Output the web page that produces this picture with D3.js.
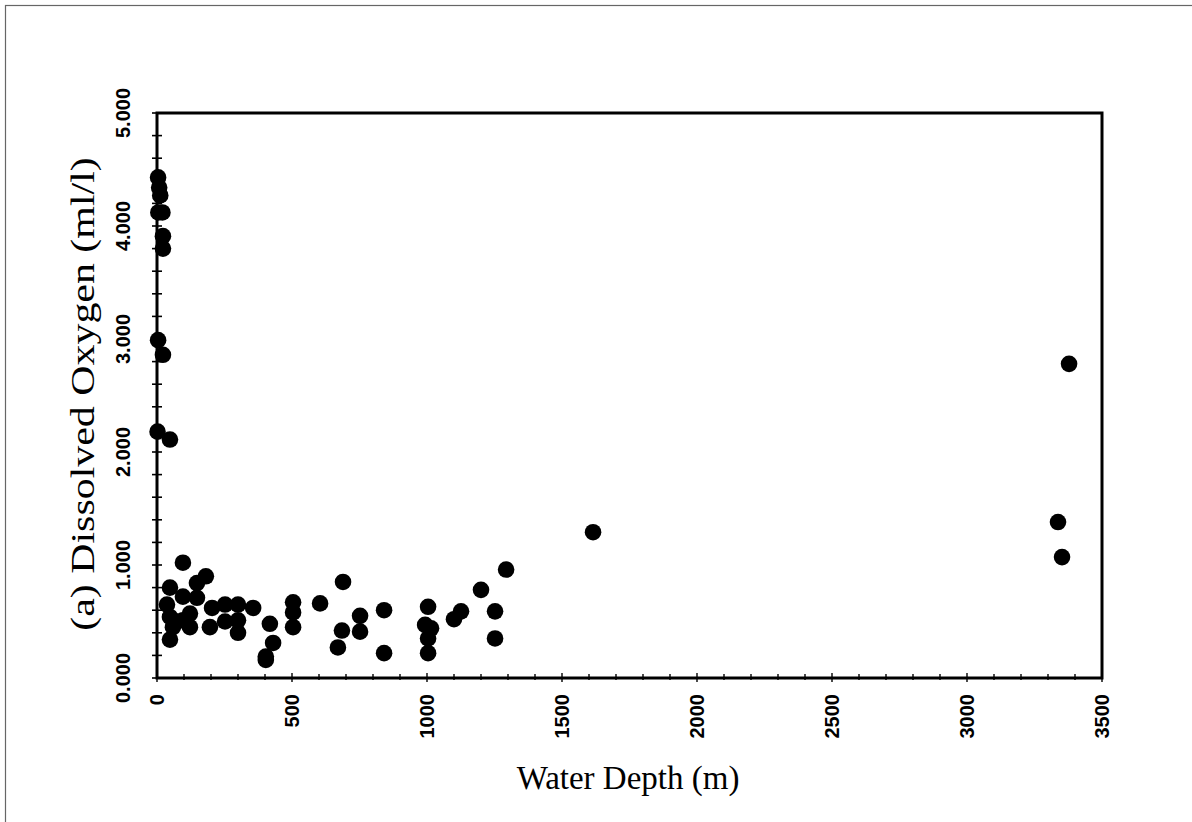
<!DOCTYPE html>
<html>
<head>
<meta charset="utf-8">
<script src="https://cdn.jsdelivr.net/npm/d3@7"></script>
<style>
  html, body { margin: 0; padding: 0; background: #fff; }
  svg { display: block; }
</style>
</head>
<body>
<svg id="chart" width="1192" height="822"></svg>
<script>
// Dissolved oxygen vs water depth scatter

const depth = [4, 8, 12, 5, 20, 22, 22, 4, 22, 2, 48,
  96, 181, 148, 48, 96, 148, 37, 204, 252, 300, 356, 504, 504, 604,
  48, 74, 122, 96, 122, 59, 196, 252, 300, 300, 504, 418, 430, 403, 403, 48,
  689, 752, 752, 685, 670, 841, 841, 1004, 993, 1015, 1004, 1004,
  1100, 1126, 1200, 1252, 1252, 1293, 1615, 3378, 3337, 3352];

const oxygen = [4.43, 4.34, 4.27, 4.12, 4.12, 3.91, 3.80, 2.99, 2.86, 2.18, 2.11,
  1.02, 0.90, 0.84, 0.80, 0.72, 0.71, 0.65, 0.62, 0.65, 0.65, 0.62, 0.67, 0.58, 0.66,
  0.54, 0.50, 0.57, 0.51, 0.45, 0.45, 0.45, 0.50, 0.51, 0.40, 0.45, 0.48, 0.31, 0.19, 0.16, 0.34,
  0.85, 0.55, 0.41, 0.42, 0.27, 0.60, 0.22, 0.63, 0.47, 0.44, 0.35, 0.22,
  0.52, 0.59, 0.78, 0.59, 0.35, 0.96, 1.29, 2.78, 1.38, 1.07];

const xTicks = [0, 500, 1000, 1500, 2000, 2500, 3000, 3500];
const yTicks = [0, 1, 2, 3, 4, 5];

const svg = d3.select('#chart');
const plotL = 157, plotR = 1102, plotT = 113, plotB = 678;

const x = d3.scaleLinear().domain([0, 3500]).range([plotL, plotR]);
const y = d3.scaleLinear().domain([0, 5]).range([plotB, plotT]);

// outer frame of the figure
svg.append('rect')
  .attr('x', 5.5).attr('y', 5.5)
  .attr('width', 1300).attr('height', 1000)
  .attr('fill', 'none')
  .attr('stroke', '#666')
  .attr('stroke-width', 1.2);

// points
svg.append('g')
  .selectAll('circle')
  .data(depth.map((d, i) => [d, oxygen[i]]))
  .join('circle')
  .attr('cx', d => x(d[0]))
  .attr('cy', d => y(d[1]))
  .attr('r', 8.3)
  .attr('fill', '#000');

// minor ticks
const g = svg.append('g').attr('stroke', '#000');
g.selectAll('.ytick')
  .data(d3.range(0, 5.001, 0.2))
  .join('line')
  .attr('x1', plotL - 5).attr('x2', plotL + 5)
  .attr('y1', d => y(d)).attr('y2', d => y(d))
  .attr('stroke-width', 1.6);

g.selectAll('.xtick')
  .data(d3.range(0, 3501, 100))
  .join('line')
  .attr('x1', d => x(d)).attr('x2', d => x(d))
  .attr('y1', d => plotB - (d % 500 === 0 ? 5 : 4))
  .attr('y2', d => plotB + (d % 500 === 0 ? 4 : 2))
  .attr('stroke-width', 1.4);

// plot box
svg.append('rect')
  .attr('x', plotL).attr('y', plotT)
  .attr('width', plotR - plotL).attr('height', plotB - plotT)
  .attr('fill', 'none')
  .attr('stroke', '#000')
  .attr('stroke-width', 3);

// tick labels
svg.append('g')
  .selectAll('text')
  .data(yTicks)
  .join('text')
  .attr('transform', d => `translate(123,${y(d)}) rotate(-90)`)
  .attr('text-anchor', 'middle')
  .attr('dy', '0.35em')
  .style('font-family', '"Liberation Sans", Arial, sans-serif')
  .style('font-size', '20px')
  .style('font-weight', 'bold')
  .text(d => d3.format('.3f')(d));

svg.append('g')
  .selectAll('text')
  .data(xTicks)
  .join('text')
  .attr('transform', d => `translate(${x(d)},694) rotate(-90)`)
  .attr('text-anchor', 'end')
  .attr('dy', '0.35em')
  .style('font-family', '"Liberation Sans", Arial, sans-serif')
  .style('font-size', '20px')
  .style('font-weight', 'bold')
  .text(d => d);

// axis titles (the scanned y title is stretched along its length)
svg.append('text')
  .attr('transform', `translate(82,394) rotate(-90) scale(1.27,1)`)
  .attr('text-anchor', 'middle')
  .attr('dy', '0.35em')
  .style('font-family', '"Liberation Serif", "Times New Roman", serif')
  .style('font-size', '33px')
  .text('(a) Dissolved Oxygen (ml/l)');

svg.append('text')
  .attr('x', 628).attr('y', 777)
  .attr('text-anchor', 'middle')
  .attr('dy', '0.35em')
  .style('font-family', '"Liberation Serif", "Times New Roman", serif')
  .style('font-size', '33px')
  .text('Water Depth (m)');
</script>
</body>
</html>
